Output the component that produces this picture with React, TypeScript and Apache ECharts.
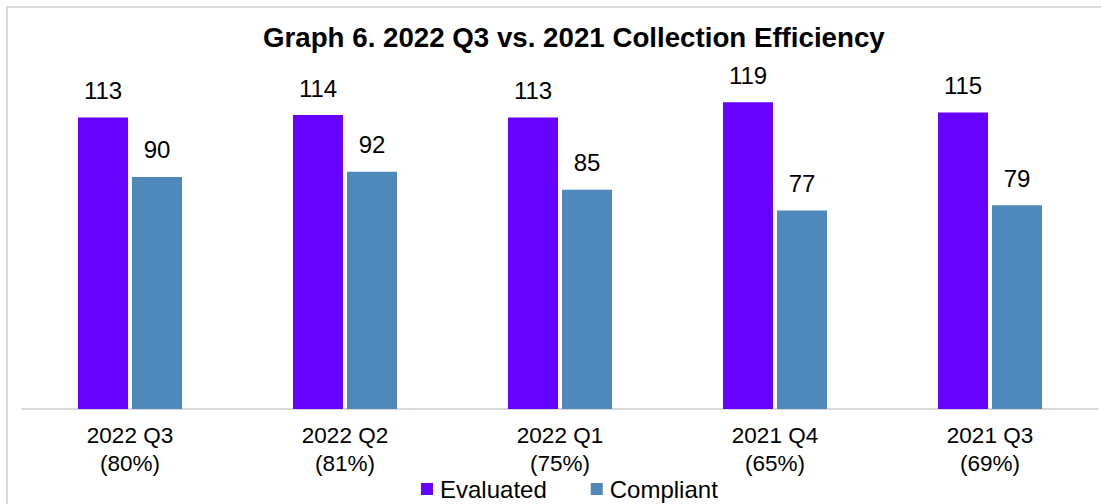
import React, { useEffect, useRef } from "react";
import * as echarts from "echarts";

const categories = ["2022 Q3\n(80%)", "2022 Q2\n(81%)", "2022 Q1\n(75%)", "2021 Q4\n(65%)", "2021 Q3\n(69%)"];
const evaluated = [113, 114, 113, 119, 115];
const compliant = [90, 92, 85, 77, 79];
const titleText = "Graph 6. 2022 Q3 vs. 2021 Collection Efficiency";

export default function App() {
  const ref = useRef<HTMLDivElement>(null);
  useEffect(() => {
    if (!ref.current) return;
    const chart = echarts.init(ref.current, undefined, { renderer: "svg" });
    const font = "'Liberation Sans', Arial, sans-serif";
    chart.setOption({
      animation: false,
      textStyle: { fontFamily: font },
      title: {
        text: titleText,
        left: 263,
        top: 23,
        padding: 0,
        textStyle: { fontFamily: font, fontSize: 27.7, fontWeight: "bold", color: "#000" },
      },
      graphic: [
        {
          type: "rect",
          shape: { x: 7, y: 7, width: 1100, height: 500 },
          style: { fill: "none", stroke: "#d9d9d9", lineWidth: 2 },
          silent: true,
        },
      ],
      legend: {
        bottom: -2,
        left: 416,
        itemWidth: 12,
        itemHeight: 12,
        itemGap: 44,
        icon: "rect",
        textStyle: { fontFamily: font, fontSize: 24, color: "#000", padding: [0, 0, 0, 2] },
        data: ["Evaluated", "Compliant"],
      },
      grid: { left: 22.5, right: 3.5, top: 48, bottom: 95, containLabel: false },
      xAxis: {
        type: "category",
        data: categories,
        axisLine: { show: true, lineStyle: { color: "#d9d9d9", width: 2 } },
        axisTick: { show: false },
        axisLabel: {
          fontFamily: font,
          fontSize: 22.5,
          color: "#000",
          lineHeight: 28,
          margin: 12,
          interval: 0,
        },
      },
      yAxis: {
        type: "value",
        min: 0,
        max: 140,
        show: false,
        splitLine: { show: false },
      },
      series: [
        {
          name: "Evaluated",
          type: "bar",
          data: evaluated,
          barWidth: 50,
          barGap: "8%",
          itemStyle: { color: "#6600FF" },
          label: { show: true, position: "top", distance: 15, fontFamily: font, fontSize: 24, color: "#000" },
        },
        {
          name: "Compliant",
          type: "bar",
          data: compliant,
          barWidth: 50,
          itemStyle: { color: "#4F88BB" },
          label: { show: true, position: "top", distance: 15, fontFamily: font, fontSize: 24, color: "#000" },
        },
      ],
    });
    return () => chart.dispose();
  }, []);
  return (
    <div
      ref={ref}
      style={{ position: "fixed", left: 0, top: 0, width: 1101, height: 504, background: "#fff" }}
    />
  );
}
